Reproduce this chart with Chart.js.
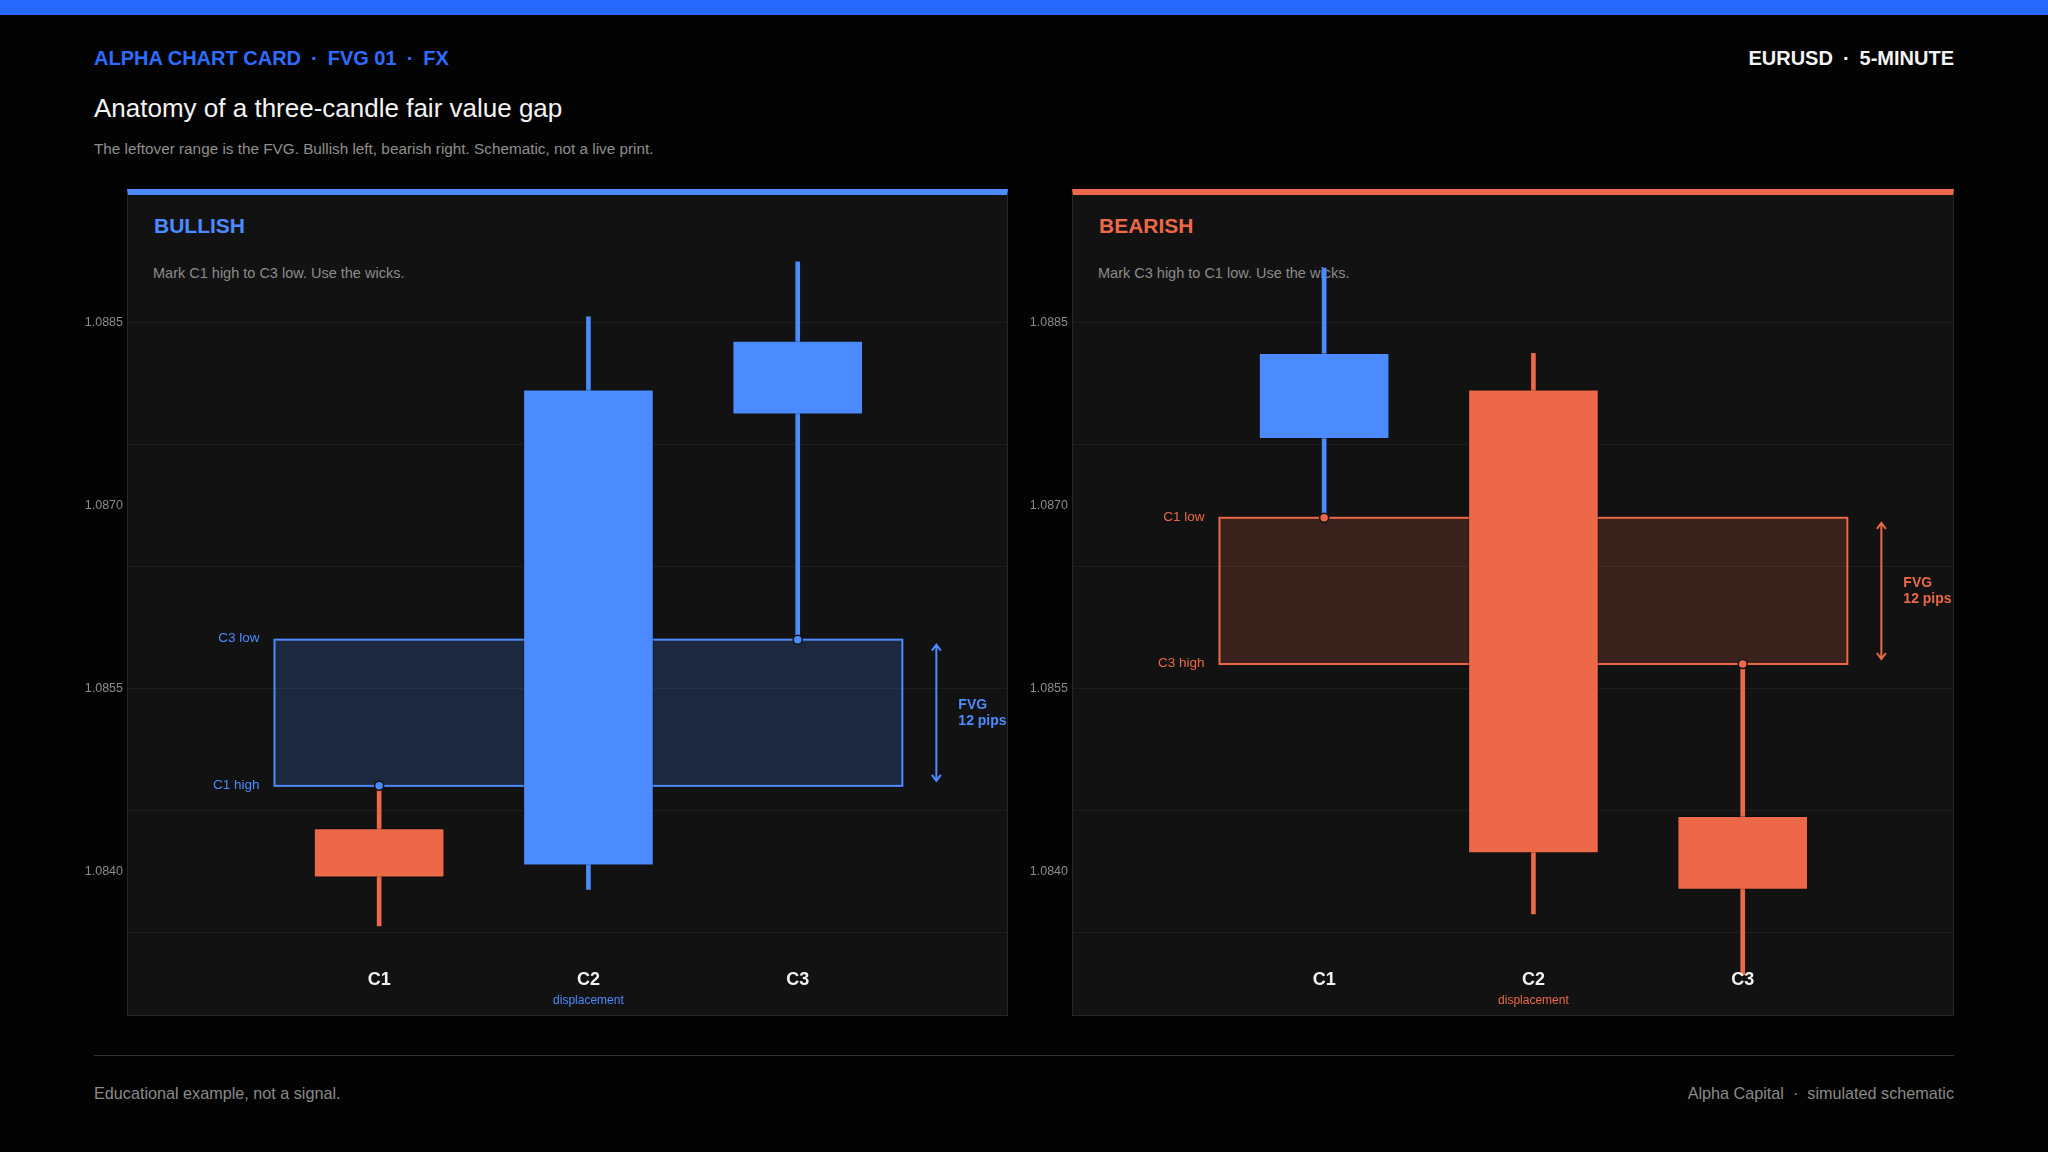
<!DOCTYPE html>
<html><head><meta charset="utf-8">
<script src="https://cdn.jsdelivr.net/npm/chart.js@4.4.1/dist/chart.umd.min.js"></script>
<style>
html,body{margin:0;padding:0;background:#030303;width:2048px;height:1152px;overflow:hidden;font-family:"Liberation Sans",Arial,Helvetica,sans-serif;}
.abs{position:absolute;line-height:1;white-space:nowrap;}
#topbar{position:absolute;left:0;top:0;width:2048px;height:15px;background:#2468ff;}
#kicker{left:94px;top:48px;font-size:20px;font-weight:bold;color:#2e6cff;}
#pair{right:94px;top:48px;font-size:20px;font-weight:bold;color:#f4f4f4;}
.sep{margin:0 10px;}
#title{left:94px;top:95px;font-size:26px;color:#f4f4f4;}
#sub{left:94px;top:141px;font-size:15.3px;color:#8f8f8f;}
.panel{position:absolute;top:189px;width:881px;height:827px;background:#121212;border:1px solid #262626;box-sizing:border-box;}
.ptitle{font-size:21px;font-weight:bold;top:215px;}
.pnote{font-size:14.5px;color:#8c8c8c;top:266px;}
#rule{position:absolute;left:94px;top:1055px;width:1860px;height:1px;background:#303030;}
.foot{top:1085px;font-size:16.2px;color:#8a8a8a;}
canvas{position:absolute;top:181px;}
</style></head>
<body>
<div id="topbar"></div>
<div id="kicker" class="abs">ALPHA CHART CARD<span class="sep">·</span>FVG 01<span class="sep">·</span>FX</div>
<div id="pair" class="abs">EURUSD<span class="sep">·</span>5-MINUTE</div>
<div id="title" class="abs">Anatomy of a three-candle fair value gap</div>
<div id="sub" class="abs">The leftover range is the FVG. Bullish left, bearish right. Schematic, not a live print.</div>

<div class="panel" style="left:127px;border-top:6px solid #4c8bff;"></div>
<div class="panel" style="left:1072px;width:882px;border-top:6px solid #ec6848;"></div>
<div class="abs ptitle" style="left:154px;color:#4c8bff;">BULLISH</div>
<div class="abs pnote" style="left:153px;">Mark C1 high to C3 low. Use the wicks.</div>
<div class="abs ptitle" style="left:1099px;color:#ec6848;">BEARISH</div>
<div class="abs pnote" style="left:1098px;">Mark C3 high to C1 low. Use the wicks.</div>

<canvas id="bull" width="950" height="836" style="left:70px;width:950px;height:836px;"></canvas>
<canvas id="bear" width="950" height="836" style="left:1015px;width:950px;height:836px;"></canvas>

<div id="rule"></div>
<div class="abs foot" style="left:94px;">Educational example, not a signal.</div>
<div class="abs foot" style="right:94px;">Alpha Capital<span class="sep" style="margin:0 9px;">·</span>simulated schematic</div>

<script>
// ---- data ----
const categories = ['C1', 'C2', 'C3'];
const subLabels = ['', 'displacement', ''];

const bullOpen  = [1.08435, 1.08405, 1.08775];
const bullHigh  = [1.08470, 1.08855, 1.08900];
const bullLow   = [1.08355, 1.08385, 1.08590];
const bullClose = [1.08395, 1.08795, 1.08835];

const bearOpen  = [1.08755, 1.08795, 1.08445];
const bearHigh  = [1.08895, 1.08825, 1.08570];
const bearLow   = [1.08690, 1.08365, 1.08315];
const bearClose = [1.08825, 1.08415, 1.08385];

const tickLabels = ['1.0885', '1.0870', '1.0855', '1.0840'];
const gridValues = [1.0885, 1.0875, 1.0865, 1.0855, 1.0845, 1.0835];

// ---- styling ----
const BLUE = '#4c8bff';
const RED = '#ec6848';
const FONT = '"Liberation Sans", Arial, Helvetica, sans-serif';
Chart.defaults.font.family = FONT;

const tickValues = tickLabels.map(Number);
const near = (a, b) => Math.abs(a - b) < 1e-7;
const allTicks = [...gridValues, ...tickValues]
  .filter((v, i, arr) => arr.findIndex(w => near(w, v)) === i)
  .sort((a, b) => a - b);

const fvgPlugin = {
  id: 'fvg',
  beforeDatasetsDraw(chart, args, o) {
    const {ctx, scales: {x, y}} = chart;
    const x0 = x.getPixelForValue(-0.5), x1 = x.getPixelForValue(2.5);
    const yt = y.getPixelForValue(o.hi), yb = y.getPixelForValue(o.lo);
    ctx.save();
    ctx.fillStyle = o.fill;
    ctx.fillRect(x0, yt, x1 - x0, yb - yt);
    ctx.strokeStyle = o.color;
    ctx.lineWidth = 2;
    ctx.strokeRect(x0, yt, x1 - x0, yb - yt);
    ctx.font = '13.5px ' + FONT;
    ctx.fillStyle = o.color;
    ctx.textAlign = 'right';
    ctx.textBaseline = 'middle';
    ctx.fillText(o.topLabel, x0 - 15, yt - 1);
    ctx.fillText(o.bottomLabel, x0 - 15, yb - 1);
    ctx.restore();
  },
  afterDraw(chart, args, o) {
    const {ctx, chartArea, scales: {x, y}} = chart;
    const x1 = x.getPixelForValue(2.5);
    const yt = y.getPixelForValue(o.hi), yb = y.getPixelForValue(o.lo);
    ctx.save();
    const ax = x1 + 34, t = yt + 5, b = yb - 5;
    ctx.strokeStyle = o.color;
    ctx.lineWidth = 2;
    ctx.beginPath();
    ctx.moveTo(ax, t); ctx.lineTo(ax, b);
    ctx.moveTo(ax - 4.5, t + 6); ctx.lineTo(ax, t); ctx.lineTo(ax + 4.5, t + 6);
    ctx.moveTo(ax - 4.5, b - 6); ctx.lineTo(ax, b); ctx.lineTo(ax + 4.5, b - 6);
    ctx.stroke();
    const pips = Math.round((o.hi - o.lo) * 10000);
    ctx.fillStyle = o.color;
    ctx.font = 'bold 14px ' + FONT;
    ctx.textAlign = 'left';
    ctx.textBaseline = 'middle';
    const cy = (yt + yb) / 2;
    ctx.fillText('FVG', x1 + 56, cy - 8);
    ctx.fillText(pips + ' pips', x1 + 56, cy + 8);
    ctx.textAlign = 'center';
    categories.forEach((c, i) => {
      const px = x.getPixelForValue(i);
      ctx.fillStyle = '#f2f2f2';
      ctx.font = 'bold 18px ' + FONT;
      ctx.fillText(c, px, chartArea.bottom - 13);
      if (subLabels[i]) {
        ctx.fillStyle = o.color;
        ctx.font = '12px ' + FONT;
        ctx.fillText(subLabels[i], px, chartArea.bottom + 8);
      }
    });
    ctx.restore();
  }
};

function makeChart(id, open, high, low, close, markY, gapOpts) {
  const cols = open.map((v, i) => close[i] >= v ? BLUE : RED);
  new Chart(document.getElementById(id), {
    type: 'bar',
    data: {
      datasets: [
        {
          type: 'scatter',
          order: 0,
          data: markY.map((v, k) => ({x: k === 0 ? 0 : 2, y: v})),
          pointRadius: 4.5,
          pointBackgroundColor: gapOpts.color,
          pointBorderColor: '#141414',
          pointBorderWidth: 1.5,
          showLine: false
        },
        {
          order: 1,
          grouped: false,
          data: categories.map((c, i) => ({x: i, y: [open[i], close[i]]})),
          backgroundColor: cols,
          borderColor: 'rgba(0,0,0,0.3)',
          borderWidth: 1,
          borderSkipped: false,
          barThickness: 130
        },
        {
          order: 2,
          grouped: false,
          data: categories.map((c, i) => ({x: i, y: [low[i], high[i]]})),
          backgroundColor: cols,
          borderWidth: 0,
          barThickness: 4
        }
      ]
    },
    options: {
      responsive: false,
      devicePixelRatio: 1,
      animation: false,
      layout: {padding: {top: 20, right: 13, bottom: 24, left: 0}},
      plugins: {legend: {display: false}, tooltip: {enabled: false}, fvg: gapOpts},
      scales: {
        x: {type: 'linear', min: -1.2, max: 3.0, offset: false, display: false},
        y: {
          type: 'linear', min: 1.0830, max: 1.0895,
          afterBuildTicks: s => { s.ticks = allTicks.map(v => ({value: v})); },
          afterFit: s => { s.width = 58; },
          border: {display: false},
          grid: {
            drawTicks: false,
            lineWidth: 1,
            color: c => gridValues.some(g => near(g, c.tick.value)) ? '#1f1f1f' : 'rgba(0,0,0,0)'
          },
          ticks: {
            autoSkip: false,
            padding: 5,
            color: '#8c8c8c',
            font: {size: 12.5, family: FONT},
            callback: v => { const k = tickValues.findIndex(t => near(t, v)); return k >= 0 ? tickLabels[k] : ''; }
          }
        }
      }
    },
    plugins: [fvgPlugin]
  });
}

// bullish: gap from C1 high to C3 low
makeChart('bull', bullOpen, bullHigh, bullLow, bullClose,
  [bullHigh[0], bullLow[2]],
  {lo: bullHigh[0], hi: bullLow[2], color: BLUE, fill: 'rgba(76,139,255,0.19)', topLabel: 'C3 low', bottomLabel: 'C1 high'});
// bearish: gap from C3 high to C1 low
makeChart('bear', bearOpen, bearHigh, bearLow, bearClose,
  [bearLow[0], bearHigh[2]],
  {lo: bearHigh[2], hi: bearLow[0], color: RED, fill: 'rgba(236,104,72,0.19)', topLabel: 'C1 low', bottomLabel: 'C3 high'});
</script>
</body></html>
